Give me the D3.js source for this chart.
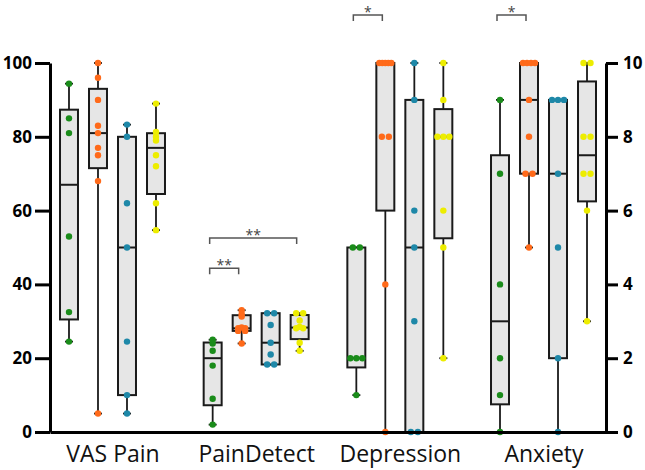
<!DOCTYPE html>
<html>
<head>
<meta charset="utf-8">
<script src="https://cdn.jsdelivr.net/npm/d3@7"></script>
<style>
  html, body { margin: 0; padding: 0; background: #fff; }
  svg { display: block; }
</style>
</head>
<body>
<svg id="chart" width="645" height="470"></svg>
<script>
// ---------------- data ----------------
const groups = ["VAS Pain", "PainDetect", "Depression", "Anxiety"];
const groupAxis = ["left", "left", "right", "right"];
const seriesNames = ["Group 1", "Group 2", "Group 3", "Group 4"];

const vasPain = [
  [94.4, 85, 81, 53, 32.5, 24.5],
  [100, 96, 90, 83, 81, 77, 75, 68, 5],
  [83.3, 80, 62, 50, 24.5, 10, 5],
  [89, 81.3, 80, 79, 75, 72, 62, 54.7]
];
const painDetect = [
  [25, 24, 22, 18, 9, 2],
  [33, 32, 31.3, 28.3, 28.1, 28.1, 27.4, 27.4, 24],
  [32.2, 32.2, 29, 24.2, 21, 18.3, 18.3],
  [32.2, 32.2, 30.2, 28.5, 28.1, 28.1, 24.2, 22]
];
const depression = [
  [5, 5, 2, 2, 2, 1],
  [10, 10, 10, 10, 10, 8, 8, 4, 0],
  [10, 9, 6, 5, 3, 0, 0],
  [10, 9, 8, 8, 8, 6, 5, 2]
];
const anxiety = [
  [9, 7, 4, 2, 1, 0],
  [10, 10, 10, 10, 9, 8, 7, 7, 5],
  [9, 9, 9, 7, 5, 2, 0],
  [10, 10, 8, 8, 7, 7, 6, 3]
];
const groupData = [vasPain, painDetect, depression, anxiety];

const leftTicks = [0, 20, 40, 60, 80, 100];
const rightTicks = [0, 2, 4, 6, 8, 10];

const bracketGroups = ["PainDetect", "PainDetect", "Depression", "Anxiety"];
const bracketFrom = [0, 0, 0, 0];
const bracketTo = [1, 3, 1, 1];
const bracketLevel = [44.4, 52.6, 11.3, 11.3];
const bracketLabel = ["**", "**", "*", "*"];

// ---------------- styles ----------------
const colors = ["#1a8c1a", "#ff6a1a", "#1e88a8", "#eded00"];
const boxFill = "#e6e6e6";
const ink = "#1a1a1a";

// ---------------- scales ----------------
const svg = d3.select("#chart");
const xLeft = 50, xRight = 606, yTop = 63, yBottom = 432;

const x = d3.scalePoint().domain(groups).range([xLeft, xRight]).padding(0.435);
const xs = d3.scaleBand().domain(d3.range(4)).range([-58, 58]).paddingInner(0.38).paddingOuter(0.19);
const yL = d3.scaleLinear().domain([0, 100]).range([yBottom, yTop]);
const yR = d3.scaleLinear().domain([0, 10]).range([yBottom, yTop]);
const yFor = g => groupAxis[groups.indexOf(g)] === "left" ? yL : yR;

// GraphPad-style quartiles ((n+1)p positions)
function quart(sorted, p) {
  const n = sorted.length;
  let pos = (n + 1) * p;
  if (pos < 1) pos = 1;
  if (pos > n) pos = n;
  const lo = Math.floor(pos), f = pos - lo;
  if (lo >= n) return sorted[n - 1];
  return sorted[lo - 1] + f * (sorted[lo] - sorted[lo - 1]);
}

// ---------------- boxes ----------------
const bw = xs.bandwidth();
const capW = 8;
const dotR = 3.2;

groups.forEach((g, gi) => {
  const y = yFor(g);
  groupData[gi].forEach((vals, si) => {
    const s = vals.slice().sort((a, b) => a - b);
    const mn = s[0], mx = s[s.length - 1];
    const q1 = quart(s, 0.25), md = quart(s, 0.5), q3 = quart(s, 0.75);
    const cx = x(g) + xs(si) + bw / 2;
    const gg = svg.append("g");
    gg.append("line").attr("x1", cx).attr("x2", cx).attr("y1", y(mn)).attr("y2", y(mx))
      .attr("stroke", ink).attr("stroke-width", 1.8);
    [mn, mx].forEach(v => {
      gg.append("line").attr("x1", cx - capW / 2).attr("x2", cx + capW / 2)
        .attr("y1", y(v)).attr("y2", y(v)).attr("stroke", ink).attr("stroke-width", 1.8);
    });
    gg.append("rect").attr("x", cx - bw / 2).attr("width", bw)
      .attr("y", y(q3)).attr("height", Math.max(0, y(q1) - y(q3)))
      .attr("fill", boxFill).attr("stroke", ink).attr("stroke-width", 2);
    gg.append("line").attr("x1", cx - bw / 2).attr("x2", cx + bw / 2)
      .attr("y1", y(md)).attr("y2", y(md)).attr("stroke", ink).attr("stroke-width", 2);
    const counts = d3.rollup(vals, v => v.length, d => d);
    counts.forEach((k, v) => {
      const sp = k > 1 ? Math.min(7, (bw - 6) / (k - 1)) : 0;
      for (let i = 0; i < k; i++) {
        gg.append("circle")
          .attr("cx", cx + (i - (k - 1) / 2) * sp)
          .attr("cy", y(v)).attr("r", dotR)
          .attr("fill", colors[si]);
      }
    });
  });
});

// ---------------- axes ----------------
const tickFont = "'Open Sans', sans-serif";
const axL = svg.append("g").attr("transform", `translate(${xLeft},0)`)
  .call(d3.axisLeft(yL).tickValues(leftTicks).tickSize(15).tickSizeOuter(0).tickPadding(3));
const axR = svg.append("g").attr("transform", `translate(${xRight},0)`)
  .call(d3.axisRight(yR).tickValues(rightTicks).tickSize(12).tickSizeOuter(0).tickPadding(5));
const axB = svg.append("g").attr("transform", `translate(0,${yBottom})`)
  .call(d3.axisBottom(x).tickSize(0).tickSizeOuter(0).tickPadding(14));

[axL, axR, axB].forEach(a => {
  a.select(".domain").attr("stroke", "#000").attr("stroke-width", 3);
  a.selectAll(".tick line").attr("stroke", "#000").attr("stroke-width", 3);
});
[axL, axR].forEach(a => {
  a.selectAll(".tick text").attr("font-family", tickFont).attr("font-weight", 700)
    .attr("font-size", 17).attr("fill", "#000");
});
axB.selectAll(".tick text").attr("font-family", tickFont).attr("font-size", 23).attr("fill", "#111");

// ---------------- significance brackets ----------------
bracketGroups.forEach((g, i) => {
  const y = yFor(g);
  const x1 = x(g) + xs(bracketFrom[i]) + bw / 2 - 3;
  const x2 = x(g) + xs(bracketTo[i]) + bw / 2 - 3;
  const yy = y(bracketLevel[i]);
  svg.append("path")
    .attr("d", `M${x1},${yy + 6}V${yy}H${x2}V${yy + 6}`)
    .attr("fill", "none").attr("stroke", "#555").attr("stroke-width", 1.5);
  svg.append("text").attr("x", (x1 + x2) / 2).attr("y", yy + 2)
    .attr("text-anchor", "middle").attr("font-family", tickFont)
    .attr("font-size", 14).attr("fill", "#444").text(bracketLabel[i]);
});
</script>
</body>
</html>
